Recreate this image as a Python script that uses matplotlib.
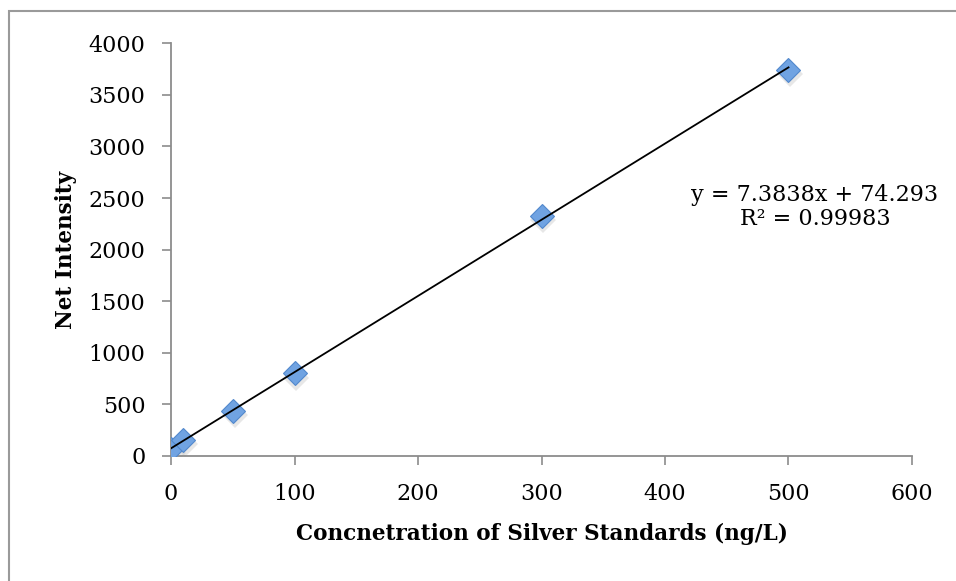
import numpy as np
import matplotlib
matplotlib.use("Agg")
import matplotlib.pyplot as plt
from matplotlib.patches import Rectangle

# Data
concentration = [0, 10, 50, 100, 300, 500]
net_intensity = [65, 155, 440, 800, 2330, 3745]
x_ticks = [0, 100, 200, 300, 400, 500, 600]
y_ticks = [0, 500, 1000, 1500, 2000, 2500, 3000, 3500, 4000]
equation_text = "y = 7.3838x + 74.293\nR² = 0.99983"
x_label = "Concnetration of Silver Standards (ng/L)"
y_label = "Net Intensity"

plt.rcParams['font.family'] = ['DejaVu Serif']

fig = plt.figure(figsize=(9.56, 5.81), dpi=100)
ax = fig.add_axes([171/956, 1-456/581, (912-171)/956, (456-43.3)/581])

# figure border (top & left visible)
fig.patches.append(Rectangle((8.5/956, -0.1), 1.2, (1-10.5/581)+0.1, transform=fig.transFigure,
                             fill=False, edgecolor='#9a9a9a', linewidth=1.5, zorder=0))

# trendline
coef = np.polyfit(concentration, net_intensity, 1)
xs = np.array([min(concentration), max(concentration)])
ax.plot(xs, np.polyval(coef, xs), color='black', linewidth=1.3, zorder=4)

# shadow
ax.plot(np.array(concentration) + 1.5, np.array(net_intensity) - 40, linestyle='none', marker='D',
        markersize=13, color='#c4c4c4', alpha=0.4, markeredgewidth=0, zorder=2)
ax.plot(concentration, net_intensity, linestyle='none', marker='D', markersize=12.5,
        markerfacecolor='#70a3e2', markeredgecolor='#5288cc', markeredgewidth=0.8, zorder=3)

ax.set_xlim(0, 600)
ax.set_ylim(0, 4000)
ax.set_xticks(x_ticks)
ax.set_yticks(y_ticks)
ax.tick_params(axis='both', direction='out', length=6.5, width=1.2, color='#8c8c8c',
               labelsize=16, labelcolor='black')
ax.tick_params(axis='y', pad=12)
ax.tick_params(axis='x', pad=13)
for s in ['top', 'right']:
    ax.spines[s].set_visible(False)
for s in ['left', 'bottom']:
    ax.spines[s].set_color('#8c8c8c')
    ax.spines[s].set_linewidth(1.3)

ax.set_xlabel(x_label, fontsize=15.5, fontweight='bold', labelpad=13)
ax.set_ylabel(y_label, fontsize=15.5, fontweight='bold', labelpad=8)

ax.text(815/956, 1-207/581, equation_text, transform=fig.transFigure, ha='center', va='center',
        fontsize=16, linespacing=1.1)

fig.savefig("out.png", dpi=100)
